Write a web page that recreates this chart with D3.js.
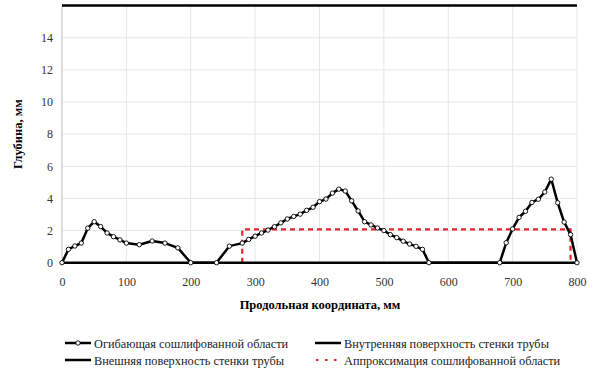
<!DOCTYPE html>
<html>
<head>
<meta charset="utf-8">
<script src="https://cdn.jsdelivr.net/npm/d3@7"></script>
<style>
  body { margin: 0; background: #fff; }
  svg text { font-family: "Liberation Serif", "Times New Roman", "DejaVu Serif", serif !important; }
</style>
</head>
<body>
<div id="chart"></div>
<script>
// envelope of the ground-off region (x in mm, depth in mm)
const envX = [0, 10, 20, 30, 40, 50, 60, 70, 80, 90, 100, 120, 140, 160, 180, 200,
  240, 260, 280, 290, 300, 310, 320, 330, 340, 350, 360, 370, 380, 390, 400, 410, 420, 430, 440,
  450, 460, 470, 480, 490, 500, 510, 520, 530, 540, 550, 560, 570,
  680, 690, 700, 710, 720, 730, 740, 750, 760, 770, 780, 790, 800];
const envY = [0, 0.83, 1.04, 1.22, 2.15, 2.55, 2.25, 1.85, 1.62, 1.42, 1.22, 1.12, 1.35, 1.22, 0.92, 0,
  0, 1.03, 1.22, 1.45, 1.65, 1.85, 2.03, 2.24, 2.48, 2.72, 2.88, 3.02, 3.26, 3.45, 3.8, 3.96, 4.33, 4.58, 4.46,
  3.85, 3.22, 2.55, 2.35, 2.16, 2.0, 1.75, 1.56, 1.34, 1.16, 1.02, 0.83, 0,
  0, 1.24, 2.1, 2.82, 3.2, 3.75, 3.95, 4.4, 5.2, 3.73, 2.53, 1.75, 0];
const innerX = [0, 800], innerY = [0, 0];
const outerX = [0, 800], outerY = [16, 16];
const approxX = [280, 280, 790, 790], approxY = [0, 2.07, 2.07, 0];
const xTicks = [0, 100, 200, 300, 400, 500, 600, 700, 800];
const yTicks = [0, 2, 4, 6, 8, 10, 12, 14];
const legendLabels = ["Огибающая сошлифованной области", "Внутренняя поверхность стенки трубы",
  "Внешняя поверхность стенки трубы", "Аппроксимация сошлифованной области"];

const W = 602, H = 376;
const margin = { top: 5.6, right: 25, bottom: 113.3, left: 62 };
const w = W - margin.left - margin.right, h = H - margin.top - margin.bottom;
const serif = "'Liberation Serif', 'Times New Roman', 'DejaVu Serif', serif";

const svg = d3.select("#chart").append("svg").attr("width", W).attr("height", H)
  .style("font-family", serif);
const g = svg.append("g").attr("transform", `translate(${margin.left},${margin.top})`);

const x = d3.scaleLinear().domain([0, 800]).range([0, w]);
const y = d3.scaleLinear().domain([0, 16]).range([h, 0]);

// grid
g.append("g").selectAll("line").data(xTicks).join("line")
  .attr("x1", d => x(d)).attr("x2", d => x(d)).attr("y1", 0).attr("y2", h)
  .attr("stroke", "#e6e6e6").attr("stroke-width", 1);
g.append("g").selectAll("line").data(yTicks).join("line")
  .attr("x1", 0).attr("x2", w).attr("y1", d => y(d)).attr("y2", d => y(d))
  .attr("stroke", "#e6e6e6").attr("stroke-width", 1);
g.append("line").attr("x1", 0).attr("x2", 0).attr("y1", 0).attr("y2", h)
  .attr("stroke", "#c8c8c8").attr("stroke-width", 1);

// axes
const xAxis = g.append("g").attr("transform", `translate(0,${h})`)
  .call(d3.axisBottom(x).tickValues(xTicks).tickSize(0).tickPadding(15));
const yAxis = g.append("g")
  .call(d3.axisLeft(y).tickValues(yTicks).tickSize(0).tickPadding(9));
[xAxis, yAxis].forEach(a => {
  a.attr("font-family", serif).attr("font-size", 12);
  a.select(".domain").remove();
  a.selectAll("text").attr("fill", "#333");
});

const line = d3.line().x(d => x(d[0])).y(d => y(d[1]));
const zip = (xs, ys) => xs.map((v, i) => [v, ys[i]]);

g.append("path").datum(zip(approxX, approxY)).attr("d", line)
  .attr("fill", "none").attr("stroke", "#e3262b").attr("stroke-width", 2.2)
  .attr("stroke-dasharray", "5,4");
g.append("path").datum(zip(innerX, innerY)).attr("d", line)
  .attr("fill", "none").attr("stroke", "#000").attr("stroke-width", 2.5);
g.append("path").datum(zip(outerX, outerY)).attr("d", line)
  .attr("fill", "none").attr("stroke", "#000").attr("stroke-width", 2.5);

const env = zip(envX, envY);
g.append("path").datum(env).attr("d", line)
  .attr("fill", "none").attr("stroke", "#000").attr("stroke-width", 2.5)
  .attr("stroke-linejoin", "round");
g.append("g").selectAll("circle").data(env).join("circle")
  .attr("cx", d => x(d[0])).attr("cy", d => y(d[1])).attr("r", 2.2)
  .attr("fill", "#fff").attr("stroke", "#000").attr("stroke-width", 0.9);

// axis titles
svg.append("text").attr("x", 320).attr("y", 309)
  .attr("text-anchor", "middle").style("font-size", "12.5px").style("font-weight", "bold")
  .text("Продольная координата, мм");
svg.append("text").attr("transform", `translate(22,${margin.top + h / 2}) rotate(-90)`)
  .attr("text-anchor", "middle").style("font-size", "12.5px").style("font-weight", "bold")
  .text("Глубина, мм");

// legend
const legPos = [[65, 343], [315, 343], [65, 360], [315, 360]];
legPos.forEach(([lx, ly], i) => {
  const lg = svg.append("g").attr("transform", `translate(${lx},${ly})`);
  if (i === 3) {
    lg.append("line").attr("x1", 1).attr("x2", 26).attr("y1", 0).attr("y2", 0)
      .attr("stroke", "#e3262b").attr("stroke-width", 2.2).attr("stroke-dasharray", "2.5,6.5");
  } else {
    lg.append("line").attr("x1", 0).attr("x2", 26).attr("y1", 0).attr("y2", 0)
      .attr("stroke", "#000").attr("stroke-width", 2.5);
  }
  if (i === 0) {
    lg.append("circle").attr("cx", 13).attr("cy", 0).attr("r", 2.2)
      .attr("fill", "#fff").attr("stroke", "#000").attr("stroke-width", 0.9);
  }
  lg.append("text").attr("x", 29).attr("y", 4.5).style("font-size", "12.3px").attr("fill", "#222")
    .text(legendLabels[i]);
});
</script>
</body>
</html>
